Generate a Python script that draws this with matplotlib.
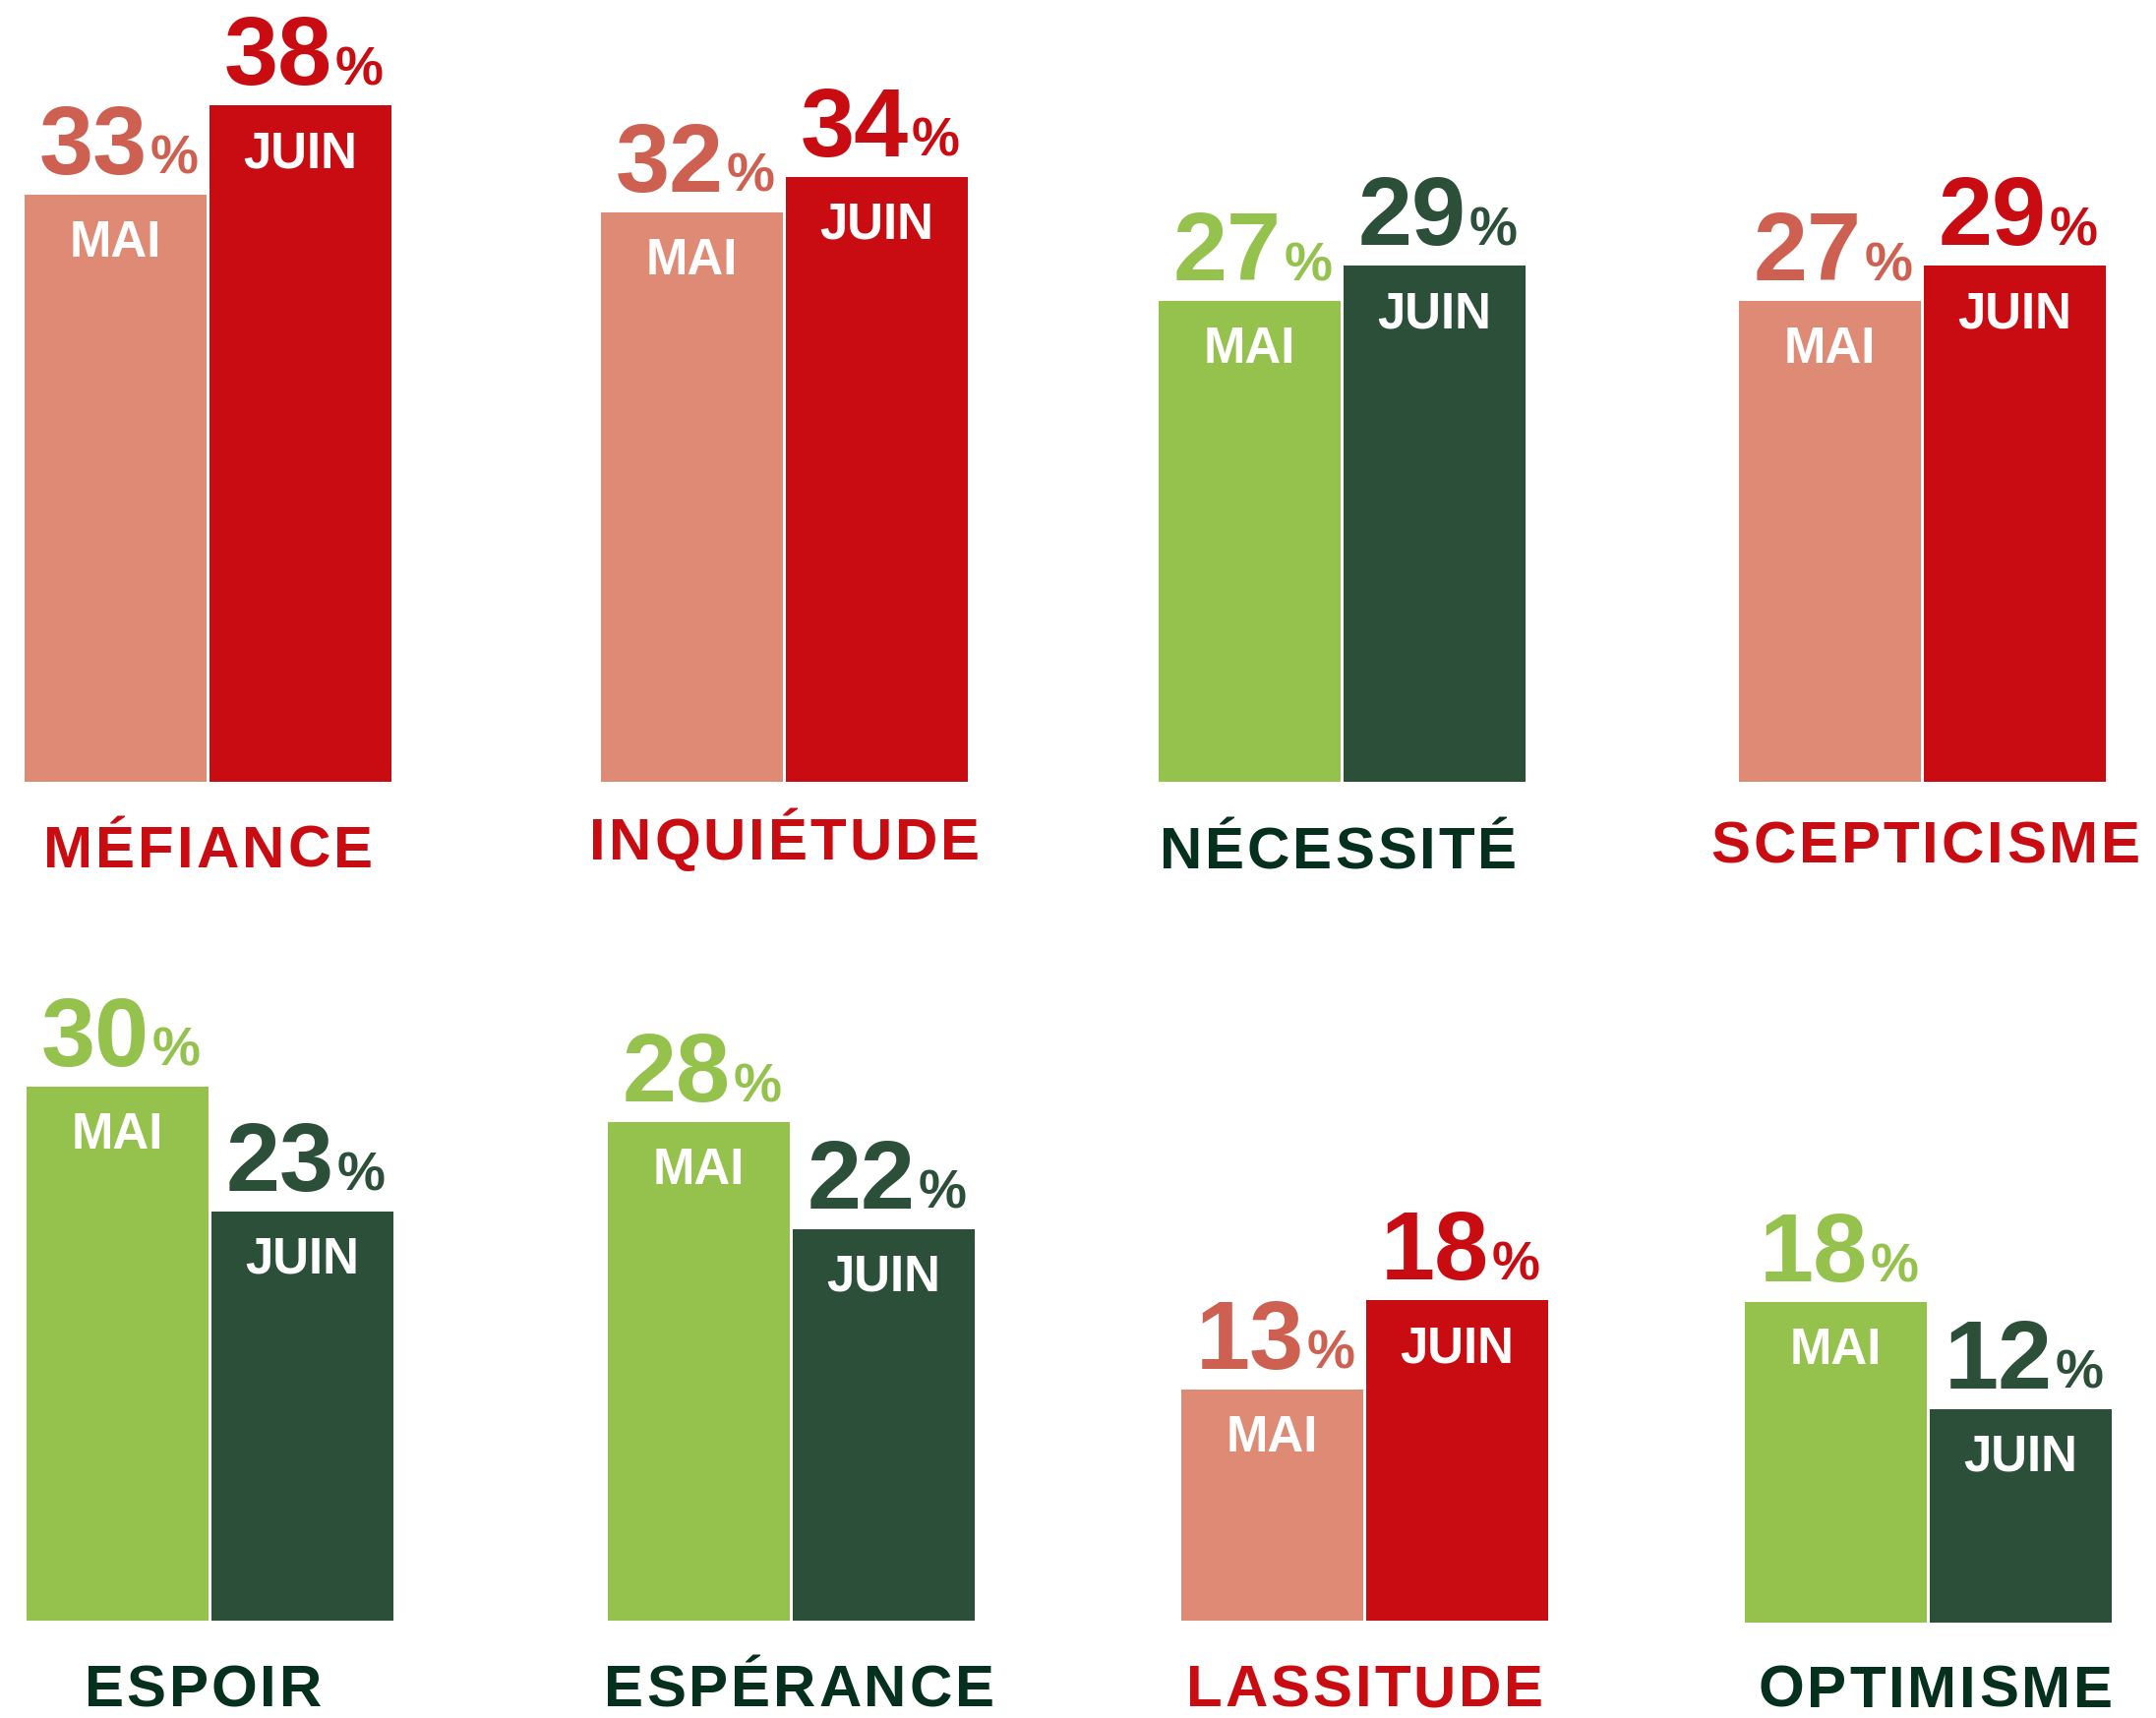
import matplotlib
matplotlib.use('Agg')
import matplotlib.pyplot as plt
from matplotlib.font_manager import FontProperties
from matplotlib.transforms import offset_copy

# data
categories = ['MÉFIANCE', 'INQUIÉTUDE', 'NÉCESSITÉ', 'SCEPTICISME',
              'ESPOIR', 'ESPÉRANCE', 'LASSITUDE', 'OPTIMISME']
mai = [33, 32, 27, 27, 30, 28, 13, 18]
juin = [38, 34, 29, 29, 23, 22, 18, 12]
tone = ['neg', 'neg', 'pos', 'neg', 'pos', 'pos', 'neg', 'pos']
months = ['MAI', 'JUIN']

# colours
bar_col = {'neg': ['#DE8A75', '#C90C12'], 'pos': ['#94C24C', '#2C4F3A']}
num_col = {'neg': ['#CD6050', '#C90C12'], 'pos': ['#94C24C', '#2C4F3A']}
lab_col = {'neg': '#C90C12', 'pos': '#06301E'}

W, H, DPI = 2192, 1747, 100
PX_PER_PCT = 18.1
FONT = 'Liberation Sans'

# layout in pixels (from top-left)
panel_left = [25, 611, 1178, 1768, 27, 618, 1201, 1774]
panel_base = [795] * 4 + [1648, 1648, 1648, 1650]
panel_h = [780] * 4 + [700] * 4
panel_w = 373
label_dy = [-87, -79, -88, -82, -87, -87, -87, -86]
label_dx = [0, 0, -4, 3, -7, 8, 0, 7]


def pt(px):
    return px * 72 / DPI


NUM_PT = pt(99)
PCT_PT = pt(55)
MONTH_PT = pt(51)
CAT_PT = pt(60)

fig = plt.figure(figsize=(W / DPI, H / DPI), dpi=DPI)
fig.patch.set_facecolor('white')
renderer = fig.canvas.get_renderer()


def text_w(s, size):
    prop = FontProperties(family=FONT, weight='bold', size=size)
    return renderer.get_text_width_height_descent(s, prop, ismath=False)[0]


def spaced_text(ax, s, dx, dy, size, color, track=3):
    # letter-spaced label, one glyph at a time
    total = text_w(s, size) + track * (len(s) - 1)
    for i, c in enumerate(s):
        x0 = dx - total / 2 + (text_w(s[:i], size) if i else 0) + track * i
        tr = offset_copy(ax.transAxes, fig=fig, x=x0, y=dy, units='dots')
        ax.text(0.5, 0, c, transform=tr, ha='left', va='baseline',
                fontsize=size, fontweight='bold', family=FONT, color=color)


for i, cat in enumerate(categories):
    l, base, h = panel_left[i], panel_base[i], panel_h[i]
    ax = fig.add_axes([l / W, (H - base) / H, panel_w / W, h / H])
    ax.set_xlim(-0.4925, 1.4925)
    ax.set_ylim(0, h / PX_PER_PCT)
    ax.axis('off')

    vals = [mai[i], juin[i]]
    ax.bar([0, 1], vals, width=0.985, color=bar_col[tone[i]], linewidth=0)

    for j, v in enumerate(vals):
        num = str(v)
        wn = text_w(num, NUM_PT)
        wp = text_w('%', PCT_PT)
        gap = 3
        start = -(wn + gap + wp) / 2 + 3
        c = num_col[tone[i]][j]
        tr = offset_copy(ax.transData, fig=fig, x=start, y=21, units='dots')
        ax.text(j, v, num, transform=tr, ha='left', va='baseline',
                fontsize=NUM_PT, fontweight='bold', family=FONT, color=c)
        tr = offset_copy(ax.transData, fig=fig, x=start + wn + gap, y=21,
                         units='dots')
        ax.text(j, v, '%', transform=tr, ha='left', va='baseline',
                fontsize=PCT_PT, fontweight='bold', family=FONT, color=c)

        tr = offset_copy(ax.transData, fig=fig, x=0, y=-63, units='dots')
        ax.text(j, v, months[j], transform=tr, ha='center', va='baseline',
                fontsize=MONTH_PT, fontweight='bold', family=FONT,
                color='white')

    spaced_text(ax, cat, label_dx[i], label_dy[i], CAT_PT, lab_col[tone[i]])

fig.savefig('out.png', dpi=DPI, facecolor='white')
